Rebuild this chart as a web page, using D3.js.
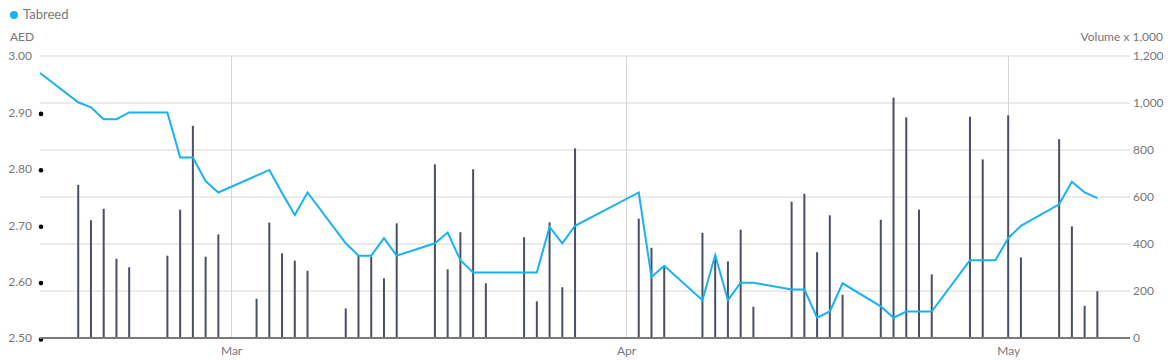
<!DOCTYPE html>
<html><head><meta charset="utf-8">
<script src="https://cdn.jsdelivr.net/npm/d3@7"></script>
<style>
html,body{margin:0;padding:0;background:#fff;}
svg{display:block;font-family:Lato, "Open Sans", sans-serif;}
</style></head>
<body>
<svg id="chart" width="1170" height="360"></svg>
<script>
const seriesName = "Tabreed";
const dates = ["2013-02-14","2013-02-17","2013-02-18","2013-02-19","2013-02-20","2013-02-21",
"2013-02-24","2013-02-25","2013-02-26","2013-02-27","2013-02-28",
"2013-03-03","2013-03-04","2013-03-05","2013-03-06","2013-03-07",
"2013-03-10","2013-03-11","2013-03-12","2013-03-13","2013-03-14",
"2013-03-17","2013-03-18","2013-03-19","2013-03-20","2013-03-21",
"2013-03-24","2013-03-25","2013-03-26","2013-03-27","2013-03-28",
"2013-04-02","2013-04-03","2013-04-04",
"2013-04-07","2013-04-08","2013-04-09","2013-04-10","2013-04-11",
"2013-04-14","2013-04-15","2013-04-16","2013-04-17","2013-04-18",
"2013-04-21","2013-04-22","2013-04-23","2013-04-24","2013-04-25",
"2013-04-28","2013-04-29","2013-04-30","2013-05-01","2013-05-02",
"2013-05-05","2013-05-06","2013-05-07","2013-05-08"];
const prices = [2.97,2.918,2.909,2.888,2.888,2.90,
2.90,2.82,2.82,2.778,2.758,
2.788,2.798,2.757,2.718,2.758,
2.668,2.646,2.646,2.677,2.646,
2.668,2.687,2.638,2.616,2.616,
2.616,2.616,2.697,2.668,2.699,
2.758,2.608,2.628,
2.567,2.647,2.567,2.598,2.598,
2.586,2.586,2.536,2.547,2.597,
2.556,2.536,2.547,2.547,2.547,
2.638,2.638,2.638,2.677,2.699,
2.737,2.777,2.758,2.748];
const volumes = [0,652,501,550,337,301,
350,546,903,346,441,
167,491,360,329,286,
126,350,346,254,488,
739,292,450,718,233,
429,156,492,216,807,
508,384,306,
448,350,326,461,133,
580,614,365,522,184,
503,1023,939,546,271,
942,760,0,948,343,
846,475,137,199];
const priceTicks = [2.50,2.60,2.70,2.80,2.90,3.00];
const volumeTicks = [0,200,400,600,800,1000,1200];
const monthTicks = ["2013-03-01","2013-04-01","2013-05-01"];
const monthLabels = ["Mar","Apr","May"];

const parse = d3.utcParse("%Y-%m-%d");
const data = dates.map((d,i)=>({date:parse(d), price:prices[i], volume:volumes[i]}));

const svg = d3.select("#chart");
const L = 40, R = 1130, T = 56, B = 338;

const x = d3.scaleUtc()
  .domain([Date.UTC(2013,1,14), Date.UTC(2013,4,10,13,30)])
  .range([L, R]);
const yP = d3.scaleLinear().domain([2.5,3.0]).range([B,T]);
const yV = d3.scaleLinear().domain([0,1200]).range([B,T]);

// horizontal gridlines + right axis
const gR = svg.append("g").attr("transform",`translate(${R},0)`)
  .call(d3.axisRight(yV).tickValues(volumeTicks).tickSize(0).tickPadding(3)
    .tickFormat(d3.format(",")));
gR.select(".domain").remove();
gR.selectAll("text").attr("fill","#777").style("font-size","12px").style("font-family","Lato, sans-serif");
svg.append("g").selectAll("line").data(volumeTicks.filter(d=>d>0)).join("line")
  .attr("x1",L).attr("x2",R).attr("y1",d=>yV(d)).attr("y2",d=>yV(d))
  .attr("stroke","#d6d6d6").attr("stroke-width",1);

// vertical month gridlines
const mt = monthTicks.map(parse);
svg.append("g").selectAll("line").data(mt).join("line")
  .attr("x1",d=>Math.round(x(d))+0.5).attr("x2",d=>Math.round(x(d))+0.5)
  .attr("y1",T).attr("y2",B)
  .attr("stroke","#d6d6d6").attr("stroke-width",1);

// x axis labels
const gX = svg.append("g").attr("transform",`translate(0,${B})`)
  .call(d3.axisBottom(x).tickValues(mt).tickSize(0).tickPadding(8)
    .tickFormat((d,i)=>monthLabels[i]));
gX.select(".domain").remove();
gX.selectAll("text").attr("fill","#777").style("font-size","12px").style("font-family","Lato, sans-serif");

// left axis
const gL = svg.append("g").attr("transform",`translate(${L},0)`)
  .call(d3.axisLeft(yP).tickValues(priceTicks).tickSize(0).tickPadding(8)
    .tickFormat(d3.format(".2f")));
gL.select(".domain").remove();
gL.selectAll("text").attr("fill","#777").style("font-size","12px").style("font-family","Lato, sans-serif");
svg.append("g").selectAll("circle").data(priceTicks.filter(d=>d<3)).join("circle")
  .attr("cx",L+1).attr("cy",d=>yP(d)+1.5).attr("r",2.3).attr("fill","#000");

// bars
svg.append("g").selectAll("rect").data(data.filter(d=>d.volume>0)).join("rect")
  .attr("x",d=>x(d.date)-1).attr("width",2)
  .attr("y",d=>yV(d.volume)).attr("height",d=>B-yV(d.volume))
  .attr("fill","#4a4f68");

// baseline
svg.append("line").attr("x1",L).attr("x2",R).attr("y1",B).attr("y2",B)
  .attr("stroke","#7a7a7a").attr("stroke-width",2);

// price line
svg.append("path").datum(data)
  .attr("d",d3.line().x(d=>x(d.date)).y(d=>yP(d.price)))
  .attr("fill","none").attr("stroke","#17b2f2").attr("stroke-width",2)
  .attr("stroke-linejoin","miter");

// legend & titles
svg.append("circle").attr("cx",14).attr("cy",15).attr("r",4).attr("fill","#17b2f2");
svg.append("text").attr("x",23).attr("y",19).text(seriesName)
  .attr("fill","#777").style("font-size","13px");
svg.append("text").attr("x",10).attr("y",41).text("AED")
  .attr("fill","#777").style("font-size","12px");
svg.append("text").attr("x",1163).attr("y",41).attr("text-anchor","end").text("Volume x 1,000")
  .attr("fill","#777").style("font-size","12px");
</script>
</body></html>
